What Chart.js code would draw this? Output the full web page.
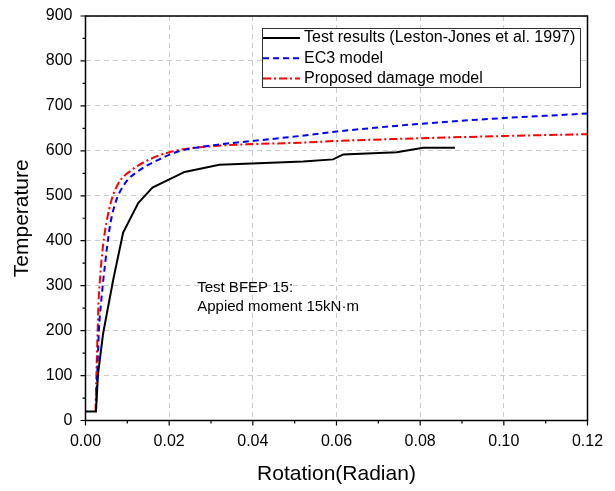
<!DOCTYPE html>
<html>
<head>
<meta charset="utf-8">
<script src="https://cdn.jsdelivr.net/npm/chart.js@4.4.1/dist/chart.umd.min.js"></script>
<style>
  html, body { margin: 0; padding: 0; background: #fff; }
  #wrap { width: 615px; height: 491px; position: relative; }
</style>
</head>
<body>
<div id="wrap"><canvas id="chart"></canvas></div>
<script>
// Test results (Leston-Jones et al. 1997)
const testRot = [0, 0.0025, 0.003, 0.0042, 0.0066, 0.009, 0.0126, 0.016, 0.0237, 0.032, 0.052, 0.0592, 0.0616, 0.0744, 0.0807, 0.0883];
const testTemp = [20, 20, 104, 193, 312, 418, 484, 518, 553, 569, 576, 581, 592, 597, 607, 607];

// EC3 model
const ec3Rot = [0.0025, 0.0028, 0.0032, 0.0037, 0.0047, 0.0058, 0.007, 0.0094, 0.0126, 0.0174, 0.022, 0.03, 0.04, 0.0512, 0.06, 0.07, 0.08, 0.09, 0.10, 0.11, 0.12];
const ec3Temp = [20, 100, 200, 260, 350, 430, 480, 527, 555, 580, 598, 612, 622, 633, 643, 652, 660, 667, 673, 678, 683];

// Proposed damage model
const damRot = [0.0024, 0.0026, 0.0029, 0.0031, 0.0035, 0.0042, 0.005, 0.0062, 0.0078, 0.011, 0.0158, 0.0214, 0.03, 0.04, 0.0512, 0.06, 0.08, 0.10, 0.12];
const damTemp = [20, 100, 200, 260, 320, 390, 440, 490, 527, 557, 583, 600, 610, 615, 618, 622, 628, 633, 637];

const seriesLabels = ['Test results (Leston-Jones et al. 1997)', 'EC3 model', 'Proposed damage model'];
const noteLines = ['Test BFEP 15:', 'Appied moment 15kN\u00b7m'];

const FONT = '"Liberation Sans", Arial, sans-serif';

const toXY = (xs, ys) => xs.map((x, i) => ({ x: x, y: ys[i] }));

// frame, outward ticks (major + minor), legend box and note text
const decor = {
    id: 'decor',
    afterDraw(chart) {
        const ctx = chart.ctx;
        const a = chart.chartArea;
        const xs = chart.scales.x;
        const ys = chart.scales.y;
        ctx.save();

        // frame
        ctx.strokeStyle = '#000';
        ctx.lineWidth = 1.5;
        ctx.strokeRect(a.left, a.top, a.right - a.left, a.bottom - a.top);

        // x ticks
        ctx.lineWidth = 1.2;
        ctx.beginPath();
        for (let i = 0; i <= 12; i++) {
            const px = xs.getPixelForValue(i * 0.01);
            const len = i % 2 === 0 ? 5 : 3;
            ctx.moveTo(px, a.bottom);
            ctx.lineTo(px, a.bottom + len);
        }
        // y ticks
        for (let i = 0; i <= 18; i++) {
            const py = ys.getPixelForValue(i * 50);
            const len = i % 2 === 0 ? 5 : 3;
            ctx.moveTo(a.left, py);
            ctx.lineTo(a.left - len, py);
        }
        ctx.stroke();

        // legend
        const lx = 262, ly = 28, lw = 318, lh = 59;
        ctx.fillStyle = '#fff';
        ctx.fillRect(lx, ly, lw, lh);
        ctx.strokeStyle = '#333';
        ctx.lineWidth = 1;
        ctx.strokeRect(lx + 0.5, ly + 0.5, lw, lh);
        ctx.font = '16px ' + FONT;
        ctx.textBaseline = 'middle';
        chart.data.datasets.forEach((ds, i) => {
            const y = ly + 10 + i * 20.3;
            ctx.strokeStyle = ds.borderColor;
            ctx.lineWidth = ds.borderWidth;
            ctx.setLineDash(ds.borderDash || []);
            ctx.beginPath();
            ctx.moveTo(lx + 1, y);
            ctx.lineTo(lx + 38, y);
            ctx.stroke();
            ctx.setLineDash([]);
            ctx.fillStyle = '#000';
            ctx.fillText(ds.label, lx + 42, y);
        });

        // note text
        ctx.font = '15px ' + FONT;
        ctx.fillStyle = '#000';
        const nx = xs.getPixelForValue(0.0267);
        const ny = ys.getPixelForValue(296);
        noteLines.forEach((t, i) => ctx.fillText(t, nx, ny + i * 19));

        ctx.restore();
    }
};

const gridColor = (ctx) => '#cccccc';

new Chart(document.getElementById('chart'), {
    type: 'line',
    data: {
        datasets: [
            {
                label: seriesLabels[0],
                data: toXY(testRot, testTemp),
                borderColor: '#000000',
                borderWidth: 2,
                pointRadius: 0,
                tension: 0,
                fill: false
            },
            {
                label: seriesLabels[1],
                data: toXY(ec3Rot, ec3Temp),
                borderColor: '#0000ff',
                borderWidth: 2,
                borderDash: [6, 4],
                pointRadius: 0,
                cubicInterpolationMode: 'monotone',
                fill: false
            },
            {
                label: seriesLabels[2],
                data: toXY(damRot, damTemp),
                borderColor: '#ff0000',
                borderWidth: 2,
                borderDash: [8, 3, 2, 3],
                pointRadius: 0,
                cubicInterpolationMode: 'monotone',
                fill: false
            }
        ]
    },
    options: {
        responsive: true,
        maintainAspectRatio: false,
        animation: false,
        layout: { padding: { left: 0, right: 27.5, top: 16, bottom: 0 } },
        plugins: {
            legend: { display: false },
            tooltip: { enabled: false }
        },
        scales: {
            x: {
                type: 'linear',
                min: 0,
                max: 0.12,
                afterFit: (s) => { s.height = 70.5; s.paddingLeft = 0; s.paddingRight = 0; },
                ticks: {
                    stepSize: 0.02,
                    color: '#000',
                    padding: 11,
                    maxRotation: 0,
                    font: { family: FONT, size: 16 },
                    callback: (v) => v.toFixed(2)
                },
                grid: { color: gridColor, lineWidth: 1, drawTicks: false },
                border: { display: false, dash: [5, 4] },
                title: {
                    display: true,
                    text: 'Rotation(Radian)',
                    color: '#000',
                    font: { family: FONT, size: 21 },
                    padding: { top: 8 }
                }
            },
            y: {
                type: 'linear',
                min: 0,
                max: 900,
                afterFit: (s) => { s.width = 85.5; s.paddingTop = 0; s.paddingBottom = 0; },
                ticks: {
                    stepSize: 100,
                    color: '#000',
                    padding: 13,
                    font: { family: FONT, size: 16 }
                },
                grid: { color: gridColor, lineWidth: 1, drawTicks: false },
                border: { display: false, dash: [5, 4] },
                title: {
                    display: true,
                    text: 'Temperature',
                    color: '#000',
                    font: { family: FONT, size: 21 },
                    padding: { top: 10, bottom: 4 }
                }
            }
        }
    },
    plugins: [decor]
});
</script>
</body>
</html>
